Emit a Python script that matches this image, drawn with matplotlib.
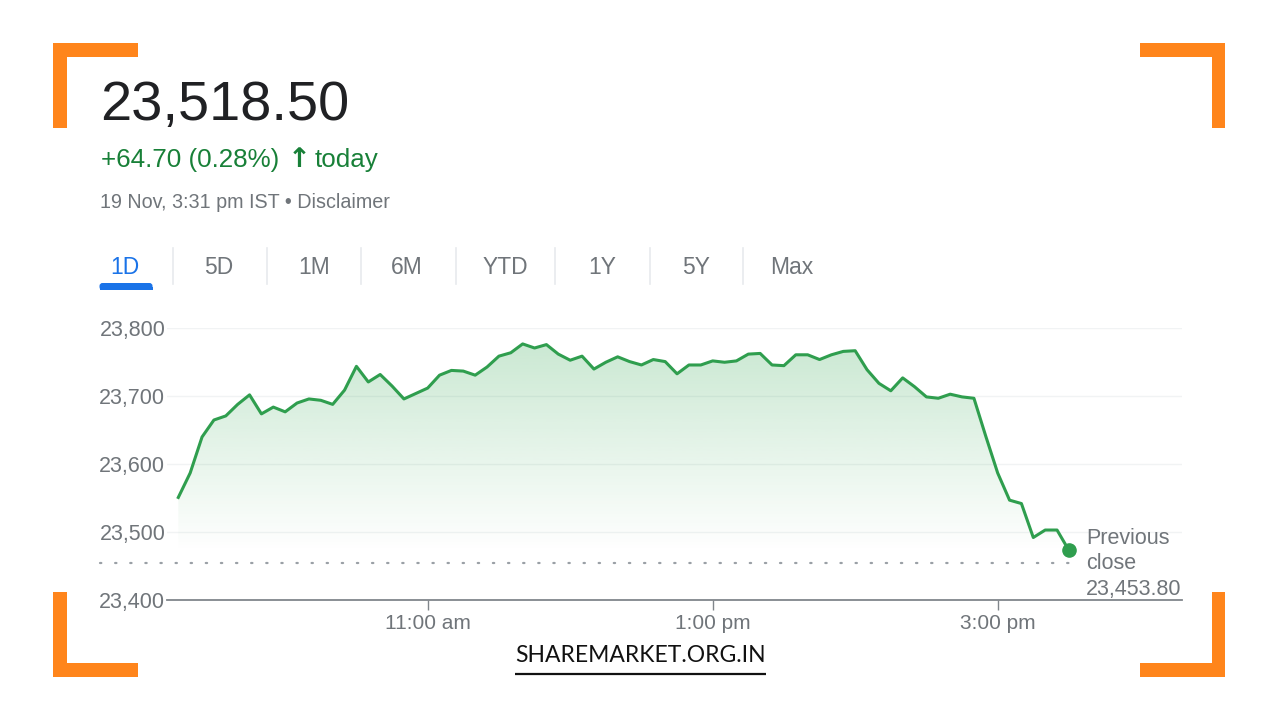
import numpy as np
import pandas as pd
import matplotlib
matplotlib.use("Agg")
import matplotlib.pyplot as plt
import matplotlib.transforms as mtransforms
from matplotlib.patches import Polygon, Rectangle, FancyBboxPatch

# ---------------- data ----------------
prices = [
    23551, 23587, 23640, 23665, 23671, 23688, 23702, 23674, 23684, 23677,
    23690, 23696, 23694, 23688, 23709, 23744, 23721, 23732, 23715, 23696,
    23704, 23712, 23731, 23738, 23737, 23731, 23743, 23759, 23764, 23777,
    23771, 23776, 23762, 23753, 23759, 23740, 23750, 23758, 23751, 23746,
    23754, 23751, 23733, 23746, 23746, 23752, 23750, 23752, 23762, 23763,
    23746, 23745, 23761, 23761, 23754, 23761, 23766, 23767, 23739, 23719,
    23708, 23727, 23714, 23699, 23697, 23703, 23699, 23697, 23641, 23587,
    23547, 23542, 23492, 23503, 23503, 23473,
]
times = pd.date_range("2024-11-19 09:15", periods=len(prices), freq="5min")
prev_close = 23453.80
y_ticks = [23400, 23500, 23600, 23700, 23800]
x_tick_times = ["11:00", "13:00", "15:00"]
x_tick_labels = ["11:00 am", "1:00 pm", "3:00 pm"]
tabs = ["1D", "5D", "1M", "6M", "YTD", "1Y", "5Y", "Max"]
price_text = "23,518.50"
change_text = "+64.70 (0.28%)"
date_text = "19 Nov, 3:31 pm IST \u2022 Disclaimer"
brand_text = "SHAREMARKET.ORG.IN"

# ---------------- styling ----------------
W, H = 1280, 720
FONT = ["Liberation Sans", "DejaVu Sans"]
GRAY = "#70757a"
GREEN_LINE = "#2f9e4e"
GREEN_TXT = "#188038"
ORANGE = "#ff851b"

plt.rcParams["font.family"] = FONT
fig = plt.figure(figsize=(W / 100, H / 100), dpi=100, facecolor="white")

# overlay axes in pixel coordinates (y downwards)
ov = fig.add_axes([0, 0, 1, 1], zorder=0)
ov.set_xlim(0, W)
ov.set_ylim(H, 0)
ov.axis("off")
ov.patch.set_alpha(0)

renderer = fig.canvas.get_renderer()


def fit_width(t, target):
    w = t.get_window_extent(renderer).width
    t.set_fontsize(t.get_fontsize() * target / w)
    return t


# ---------------- header ----------------
t = ov.text(100, 120, price_text, fontsize=40, color="#202124", va="baseline", ha="left")
fit_width(t, 249)
t = ov.text(101, 167, change_text, fontsize=16, color=GREEN_TXT, va="baseline", ha="left")
fit_width(t, 179)
fs_change = t.get_fontsize()
ov.text(299, 167, "\u2191", fontsize=fs_change * 1.05, color=GREEN_TXT, va="baseline",
        ha="center", fontweight="bold", family=["DejaVu Sans"])
ov.text(315, 167, "today", fontsize=fs_change, color=GREEN_TXT, va="baseline", ha="left")
t = ov.text(100, 208, date_text, fontsize=13, color=GRAY, va="baseline", ha="left")
fit_width(t, 289)

# ---------------- tabs ----------------
tab_centers = [125, 219, 314, 407, 505, 602, 696, 792]
for i, (lab, cx) in enumerate(zip(tabs, tab_centers)):
    ov.text(cx, 267, lab, fontsize=16.5, color="#1a73e8" if i == 0 else GRAY,
            ha="center", va="center")
for sx in [173, 267, 361, 456, 555, 650, 743]:
    ov.plot([sx, sx], [248, 284], color="#e8eaed", lw=1.2)
ov.add_patch(FancyBboxPatch((99.5, 283), 53, 7, boxstyle="round,pad=0,rounding_size=3",
                            facecolor="#1a73e8", edgecolor="none"))
ov.add_patch(Rectangle((99.5, 287), 53, 3, facecolor="#1a73e8", edgecolor="none"))

# ---------------- corner brackets ----------------
th, L = 13.5, 85
for (x0, y0, sx, sy) in [(53.3, 43.3, 1, 1), (1225, 43.3, -1, 1),
                          (53.3, 676.7, 1, -1), (1225, 676.7, -1, -1)]:
    ov.add_patch(Rectangle((x0, y0), sx * L, sy * th, facecolor=ORANGE, edgecolor="none"))
    ov.add_patch(Rectangle((x0, y0), sx * th, sy * L, facecolor=ORANGE, edgecolor="none"))

# ---------------- footer ----------------
t = ov.text(640.5, 662, brand_text, fontsize=17, color="#111111", ha="center",
            va="baseline", family=["Lato", "DejaVu Sans"])
fit_width(t, 250)
ov.plot([515, 766], [673.5, 673.5], color="#111111", lw=1.6, solid_capstyle="butt")

# ---------------- chart ----------------
ax_left, ax_right, ax_top, ax_bottom = 166.7, 1181.7, 328.3, 600.0
ax = fig.add_axes([ax_left / W, 1 - ax_bottom / H, (ax_right - ax_left) / W,
                   (ax_bottom - ax_top) / H], zorder=2)
ax.patch.set_alpha(0)

x = np.array([(t_.hour + t_.minute / 60.0) for t_ in times])
y = np.array(prices, dtype=float)
px_per_hour = 142.5
x0 = x[0] - (178.3 - ax_left) / px_per_hour
x1 = x0 + (ax_right - ax_left) / px_per_hour
ax.set_xlim(x0, x1)
ax.set_ylim(y_ticks[0], y_ticks[-1])

# gradient fill under line
top_v, bot_v = 23790, 23470
grad = np.zeros((256, 1, 4))
gr = np.array(matplotlib.colors.to_rgb("#34a853"))
grad[:, 0, :3] = gr
grad[:, 0, 3] = np.linspace(0.27, 0.0, 256)
im = ax.imshow(grad, extent=[x[0], x[-1], bot_v, top_v], aspect="auto",
               origin="upper", zorder=1, interpolation="bicubic")
verts = np.vstack([np.column_stack([x, y]), [[x[-1], y_ticks[0]], [x[0], y_ticks[0]]]])
poly = Polygon(verts, closed=True, facecolor="none", edgecolor="none")
ax.add_patch(poly)
im.set_clip_path(poly)

ax.plot(x, y, color=GREEN_LINE, lw=2.2, zorder=3, solid_joinstyle="round")
ax.plot(x[-1], y[-1], "o", color=GREEN_LINE, ms=9.5, zorder=4, clip_on=False)

# grid
for yt in y_ticks[1:]:
    ax.axhline(yt, color="#f1f3f4", lw=1.0, zorder=0)

# previous close dotted line
blend = mtransforms.blended_transform_factory(ax.transAxes, ax.transData)
ax.plot([-0.066, 0.893], [prev_close, prev_close], transform=blend, color="#9aa0a6",
        lw=1.6, dashes=(0.6, 6.2), dash_capstyle="round", clip_on=False, zorder=2)
ax.text(1086 / W, 1 - 527.5 / H, "Previous\nclose\n{:,.2f}".format(prev_close),
        transform=fig.transFigure, fontsize=15.5, color=GRAY, ha="left", va="top",
        linespacing=1.3)

# axes styling
for s in ["top", "right", "left"]:
    ax.spines[s].set_visible(False)
ax.spines["bottom"].set_color("#80868b")
ax.spines["bottom"].set_linewidth(1.3)
ax.set_yticks(y_ticks)
ax.set_yticklabels(["{:,}".format(v) for v in y_ticks])
ax.tick_params(axis="y", length=0, pad=1, labelsize=15.5, labelcolor=GRAY)
xt = [int(s.split(":")[0]) + int(s.split(":")[1]) / 60 for s in x_tick_times]
ax.set_xticks(xt)
ax.set_xticklabels(x_tick_labels)
ax.tick_params(axis="x", length=7, width=1.0, color="#80868b", pad=3,
               labelsize=15, labelcolor=GRAY, direction="out")

fig.savefig("out.png", dpi=100, facecolor="white")
